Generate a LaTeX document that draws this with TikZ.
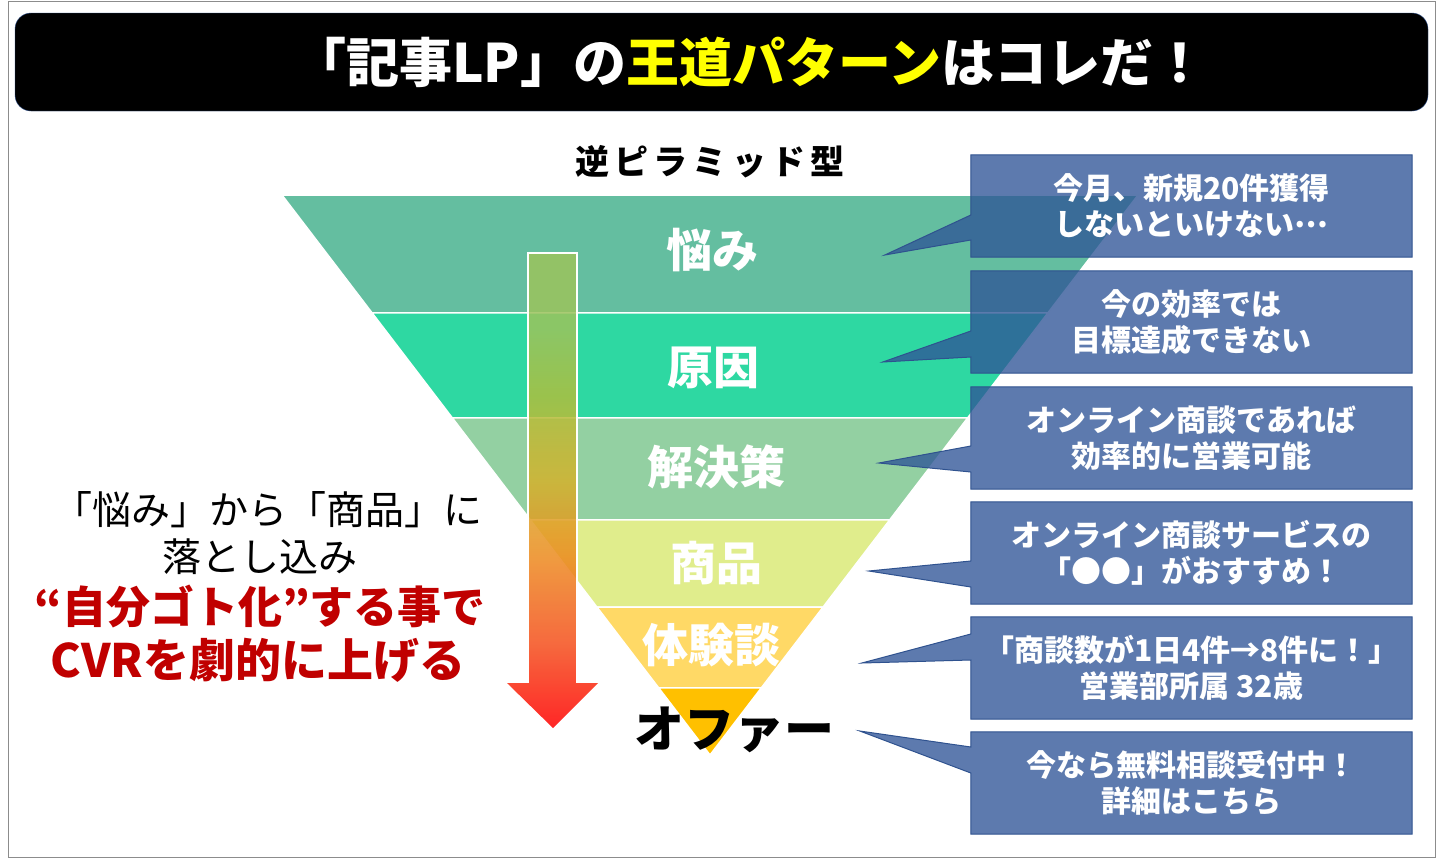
\documentclass[tikz,border=0pt]{standalone}
\usepackage{fontspec}
\setmainfont{Noto Sans CJK JP}
\usetikzlibrary{calc}

\definecolor{bandA}{HTML}{64BEA0}
\definecolor{bandB}{HTML}{2ED8A2}
\definecolor{bandC}{HTML}{93D0A2}
\definecolor{bandD}{HTML}{E0ED8C}
\definecolor{bandE}{HTML}{FFD966}
\definecolor{bandF}{HTML}{FFC000}
\definecolor{msgblue}{HTML}{2F5597}
\definecolor{msgline}{HTML}{2F528F}
\definecolor{leadred}{HTML}{C00000}
\definecolor{ttlyellow}{HTML}{FFFF00}
\definecolor{frame}{HTML}{8C8C8C}

\definecolor{arrA}{HTML}{FF0000}
\definecolor{arrB}{HTML}{F4501C}
\definecolor{arrC}{HTML}{EC8A1E}
\definecolor{arrD}{HTML}{D4B22C}
\definecolor{arrE}{HTML}{AEBF3E}
\definecolor{arrF}{HTML}{9CC35C}
\pgfdeclareverticalshading{arrfade}{100bp}{color(0bp)=(arrA); color(25bp)=(arrA);
  color(34bp)=(arrB); color(43bp)=(arrC); color(51bp)=(arrD); color(60bp)=(arrE);
  color(67bp)=(arrF); color(100bp)=(arrF)}

\pgfdeclarelayer{funnel}
\pgfdeclarelayer{callouts}
\pgfsetlayers{funnel,callouts,main}

\begin{document}
\begin{tikzpicture}[x=1pt,y=-1pt]

\tikzset{band/.style = {draw=white, line width=1.5pt}}
\tikzset{bandlbl/.style = {text=white, font=\fontsize{46}{50}\selectfont\bfseries}}
\tikzset{msg/.style = {text=white, align=center, minimum width=441, minimum height=102,
  inner sep=0pt, font=\fontsize{30}{36}\selectfont\bfseries}}
\tikzset{msgbg/.style = {fill=msgblue, fill opacity=0.78, draw=msgline, line width=1pt}}
\tikzset{lead/.style = {font=\fontsize{39}{44}\selectfont}}
\tikzset{leadbold/.style = {text=leadred, font=\fontsize{44}{50}\selectfont\bfseries}}

\useasboundingbox (0,0) rectangle (1440,860);
\draw[frame, line width=1pt] (8,1) rectangle (1435,857);

% title
\draw[fill=black, draw=msgline, rounded corners=16] (15,13) rectangle (1428,111);
\node[text=white, font=\fontsize{53}{56}\selectfont\bfseries] (ttl) at (750,62)
  {「記事LP」の\textcolor{ttlyellow}{王道パターン}はコレだ！};
\node[font=\fontsize{34}{40}\selectfont\bfseries\addfontfeature{LetterSpace=15}] (kind) at (710,162) {逆ピラミッド型};

% funnel
\coordinate (tl) at (282,195);
\coordinate (tr) at (1138,195);
\coordinate (apex) at (710,755);
\begin{pgfonlayer}{funnel}
\foreach \fa/\fb/\col in {0/0.2107/bandA, 0.2107/0.398/bandB, 0.398/0.580/bandC,
    0.580/0.736/bandD, 0.736/0.880/bandE, 0.880/1/bandF}
  \path[band, fill=\col] ($(tl)!\fa!(apex)$) -- ($(tr)!\fa!(apex)$) -- ($(tr)!\fb!(apex)$) -- ($(tl)!\fb!(apex)$) -- cycle;
\end{pgfonlayer}

\node[bandlbl] (worry) at (712,250) {悩み};
\node[bandlbl] (cause) at (713,368) {原因};
\node[bandlbl] (fix) at (716,467) {解決策};
\node[bandlbl] (item) at (716,563) {商品};
\node[bandlbl] (voice) at (711,645) {体験談};
\node[font=\fontsize{50}{54}\selectfont\bfseries] (offer) at (734,730) {オファー};

% arrow
\path[shading=arrfade, opacity=0.85] (528,253) -- (577,253) -- (577,683) -- (598,683)
  -- (553,728) -- (507,683) -- (528,683) -- cycle;
\draw[white, line width=1.2pt] (528,683) -- (528,253) -- (577,253) -- (577,683);

% lead text
\node[lead] (lead1) at (268,510) {「悩み」から「商品」に};
\node[lead] (lead2) at (260,557) {落とし込み};
\node[leadbold] (lead3) at (260,607) {“自分ゴト化”する事で};
\node[leadbold, font=\fontsize{46}{50}\selectfont\bfseries] (lead4) at (258,660) {CVRを劇的に上げる};

% callouts
\node[msg] (m1) at (1191.5,206) {今月、新規20件獲得\\しないといけない\raisebox{0.28em}{…}};
\node[msg] (m2) at (1191.5,322) {今の効率では\\目標達成できない};
\node[msg] (m3) at (1191.5,438) {オンライン商談であれば\\効率的に営業可能};
\node[msg] (m4) at (1191.5,553) {オンライン商談サービスの\\「●●」がおすすめ！};
\node[msg] (m5) at (1191.5,668) {「商談数が1日4件→8件に！」\\営業部所属 32歳};
\node[msg] (m6) at (1191.5,783) {今なら無料相談受付中！\\詳細はこちら};
\begin{pgfonlayer}{callouts}
\foreach \m/\dx/\dy/\lo/\up in {m1/-86/49/34/9, m2/-88/40/35/9, m3/-92/25/34/8,
    m4/-102/18/34/8, m5/-109/-5/-8/-34, m6/-111/-52/-10/-36}
  \path[msgbg] (\m.north west) -- (\m.north east) -- (\m.south east) -- (\m.south west)
    -- ($(\m.west)+(0,\lo)$) -- ($(\m.west)+(\dx,\dy)$) -- ($(\m.west)+(0,\up)$) -- cycle;
\end{pgfonlayer}
\end{tikzpicture}
\end{document}
